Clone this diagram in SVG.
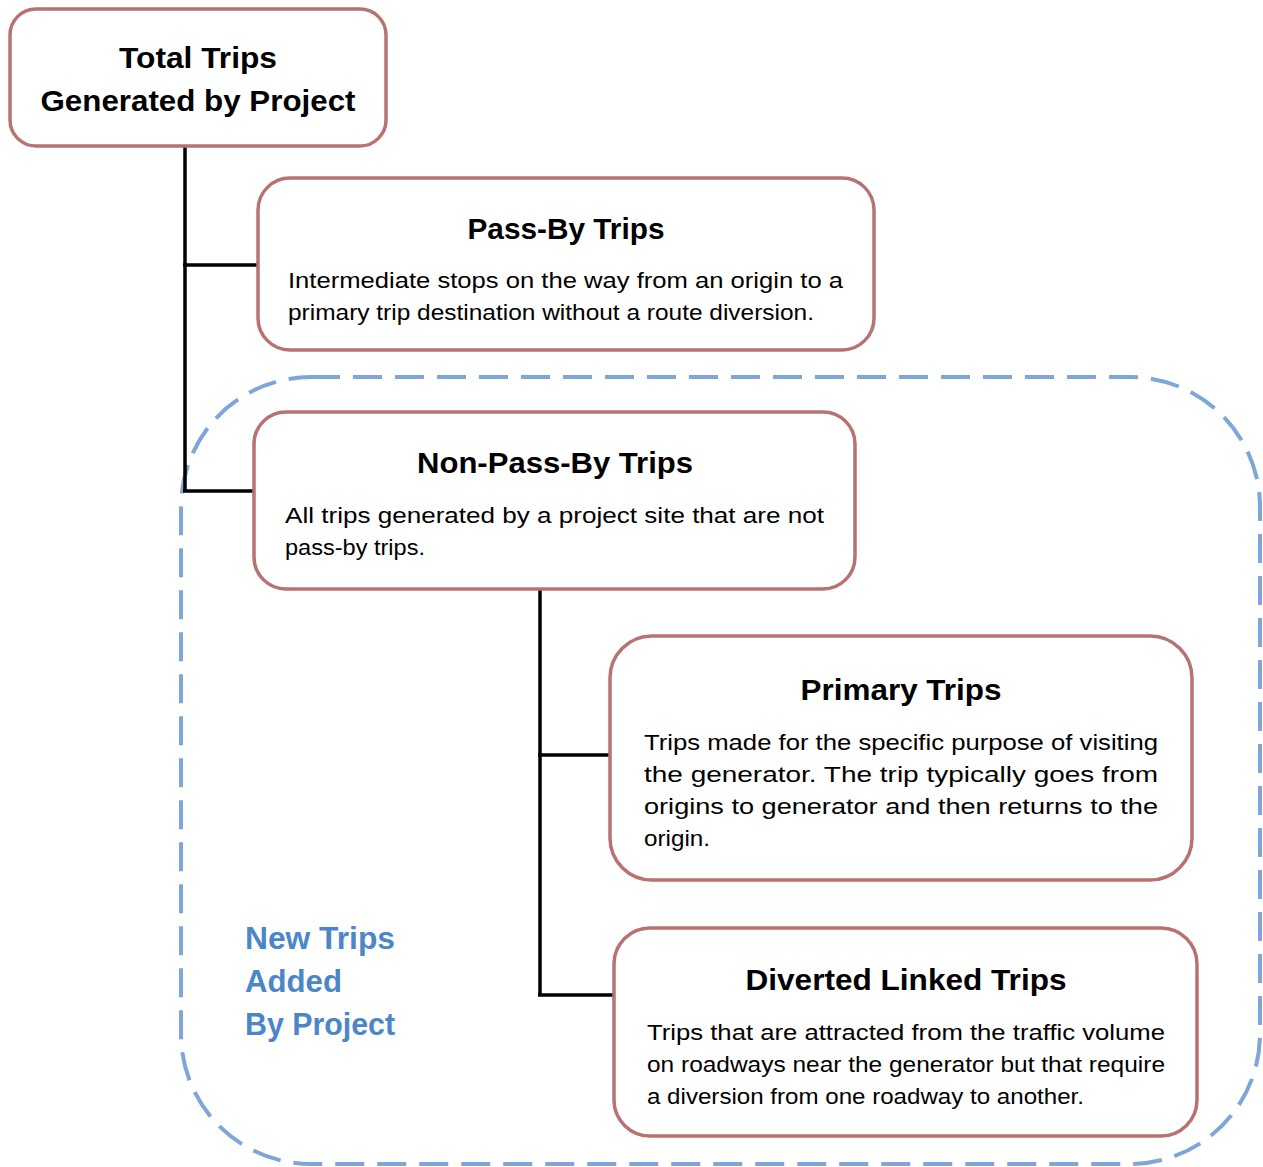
<svg xmlns="http://www.w3.org/2000/svg" width="1263" height="1167" viewBox="0 0 1263 1167">
<style>
.box{fill:#fff;stroke:#b87272;stroke-width:3.5}
.zone{fill:none;stroke:#7ea6d9;stroke-width:4;stroke-dasharray:29 13}
.conn{stroke:#000;stroke-width:3.5;fill:none}
.h{font-family:"Liberation Sans",Arial,sans-serif;font-weight:bold;font-size:30px;fill:#000;text-anchor:middle}
.b{font-family:"Liberation Sans",Arial,sans-serif;font-size:22px;fill:#000}
.blue{font-family:"Liberation Sans",Arial,sans-serif;font-weight:bold;font-size:31px;fill:#4a86c8}
</style>
<rect id="zone" class="zone" x="181" y="377" width="1079" height="787" rx="130" ry="130"/>
<g id="connectors">
<path class="conn" d="M185 146V491M183 265H258M183 491H256"/>
<path class="conn" d="M540 589V996M538 755H612M538 995H616"/>
</g>
<g id="total">
<rect class="box" x="10" y="9" width="376" height="137" rx="26"/>
<text class="h" x="198" y="68" textLength="158" lengthAdjust="spacingAndGlyphs">Total Trips</text>
<text class="h" x="198" y="111" textLength="315" lengthAdjust="spacingAndGlyphs">Generated by Project</text>
</g>
<g id="passby">
<rect class="box" x="258" y="178" width="616" height="172" rx="32"/>
<text class="h" x="566" y="239" textLength="197" lengthAdjust="spacingAndGlyphs">Pass-By Trips</text>
<text class="b" x="288" y="288" textLength="555" lengthAdjust="spacingAndGlyphs">Intermediate stops on the way from an origin to a</text>
<text class="b" x="288" y="320" textLength="526" lengthAdjust="spacingAndGlyphs">primary trip destination without a route diversion.</text>
</g>
<g id="nonpassby">
<rect class="box" x="254" y="412" width="601" height="177" rx="32"/>
<text class="h" x="555" y="473" textLength="276" lengthAdjust="spacingAndGlyphs">Non-Pass-By Trips</text>
<text class="b" x="285" y="523" textLength="539" lengthAdjust="spacingAndGlyphs">All trips generated by a project site that are not</text>
<text class="b" x="285" y="555" textLength="140" lengthAdjust="spacingAndGlyphs">pass-by trips.</text>
</g>
<g id="primary">
<rect class="box" x="610" y="636" width="582" height="244" rx="42"/>
<text class="h" x="901" y="700" textLength="201" lengthAdjust="spacingAndGlyphs">Primary Trips</text>
<text class="b" x="644" y="750" textLength="514" lengthAdjust="spacingAndGlyphs">Trips made for the specific purpose of visiting</text>
<text class="b" x="644" y="782" textLength="514" lengthAdjust="spacingAndGlyphs">the generator. The trip typically goes from</text>
<text class="b" x="644" y="814" textLength="514" lengthAdjust="spacingAndGlyphs">origins to generator and then returns to the</text>
<text class="b" x="644" y="846" textLength="66" lengthAdjust="spacingAndGlyphs">origin.</text>
</g>
<g id="diverted">
<rect class="box" x="614" y="928" width="583" height="208" rx="36"/>
<text class="h" x="906" y="990" textLength="321" lengthAdjust="spacingAndGlyphs">Diverted Linked Trips</text>
<text class="b" x="647" y="1040" textLength="518" lengthAdjust="spacingAndGlyphs">Trips that are attracted from the traffic volume</text>
<text class="b" x="647" y="1072" textLength="518" lengthAdjust="spacingAndGlyphs">on roadways near the generator but that require</text>
<text class="b" x="647" y="1104" textLength="437" lengthAdjust="spacingAndGlyphs">a diversion from one roadway to another.</text>
</g>
<g id="newtrips">
<text class="blue" x="245" y="949" textLength="150" lengthAdjust="spacingAndGlyphs">New Trips</text>
<text class="blue" x="245" y="992" textLength="97" lengthAdjust="spacingAndGlyphs">Added</text>
<text class="blue" x="245" y="1035" textLength="150" lengthAdjust="spacingAndGlyphs">By Project</text>
</g>
</svg>
